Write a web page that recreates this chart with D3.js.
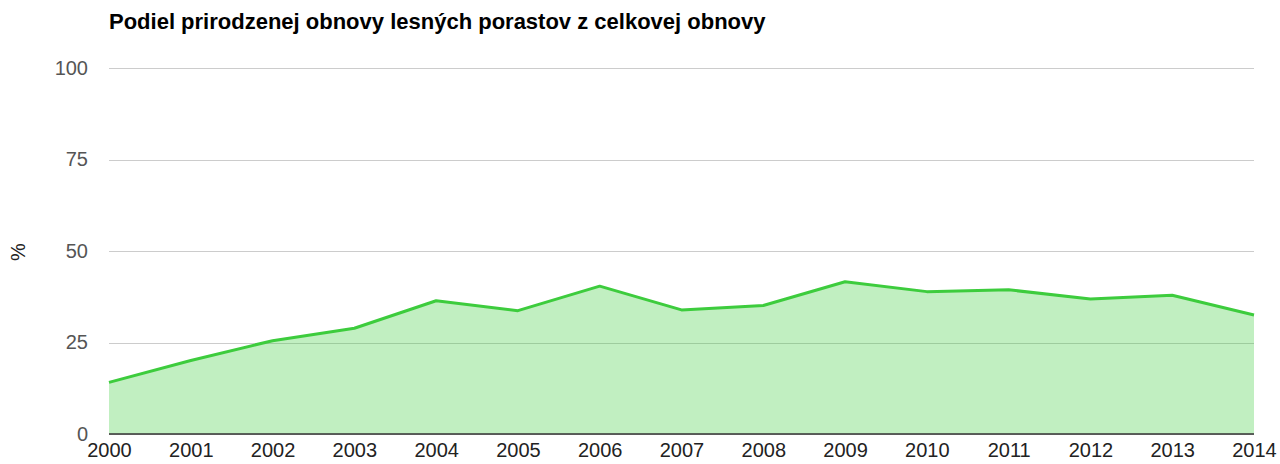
<!DOCTYPE html>
<html>
<head>
<meta charset="utf-8">
<script src="https://cdn.jsdelivr.net/npm/d3@7"></script>
<style>
  body { margin: 0; background: #fff; }
  text { font-family: "Liberation Sans", Arial, sans-serif; }
</style>
</head>
<body>
<div id="chart"></div>
<script>
// data
var years = [2000, 2001, 2002, 2003, 2004, 2005, 2006, 2007, 2008, 2009, 2010, 2011, 2012, 2013, 2014];
var shares = [14.1, 20.1, 25.5, 28.9, 36.4, 33.7, 40.4, 33.9, 35.1, 41.6, 38.9, 39.4, 36.9, 37.9, 32.5];
var yTicks = [0, 25, 50, 75, 100];
var title = "Podiel prirodzenej obnovy lesných porastov z celkovej obnovy";
var yLabel = "%";

var data = years.map(function (y, i) { return { year: y, value: shares[i] }; });

var width = 1280, height = 464;
var margin = { top: 68, right: 26, bottom: 30, left: 109 };

var svg = d3.select("#chart").append("svg")
    .attr("width", width)
    .attr("height", height);

var x = d3.scaleLinear()
    .domain([d3.min(years), d3.max(years)])
    .range([margin.left, width - margin.right]);

var y = d3.scaleLinear()
    .domain([0, 100])
    .range([height - margin.bottom, margin.top]);

// gridlines
svg.append("g")
    .selectAll("line")
    .data(yTicks)
    .enter()
    .append("line")
    .attr("x1", x.range()[0])
    .attr("x2", x.range()[1])
    .attr("y1", function (d) { return Math.round(y(d)) + 0.5; })
    .attr("y2", function (d) { return Math.round(y(d)) + 0.5; })
    .attr("stroke", "#cccccc")
    .attr("stroke-width", 1);

// area
var area = d3.area()
    .x(function (d) { return x(d.year); })
    .y0(y(0))
    .y1(function (d) { return y(d.value); });

svg.append("path")
    .datum(data)
    .attr("d", area)
    .attr("fill", "#3dcc3d")
    .attr("fill-opacity", 0.32);

var line = d3.line()
    .x(function (d) { return x(d.year); })
    .y(function (d) { return y(d.value); });

svg.append("path")
    .datum(data)
    .attr("d", line)
    .attr("fill", "none")
    .attr("stroke", "#3dcc3d")
    .attr("stroke-width", 3)
    .attr("stroke-linejoin", "round");

// baseline
svg.append("line")
    .attr("x1", x.range()[0])
    .attr("x2", x.range()[1])
    .attr("y1", y(0))
    .attr("y2", y(0))
    .attr("stroke", "#333333")
    .attr("stroke-width", 1.5);

// y axis labels
var yAxis = d3.axisLeft(y)
    .tickValues(yTicks)
    .tickSize(0)
    .tickPadding(21);

var gy = svg.append("g")
    .attr("transform", "translate(" + margin.left + ",0)")
    .call(yAxis);
gy.select(".domain").remove();
gy.selectAll("text")
    .attr("font-size", 20)
    .attr("fill", "#555555")
    .attr("font-family", "Liberation Sans, Arial, sans-serif");

// x axis labels
var xAxis = d3.axisBottom(x)
    .tickValues(years)
    .tickFormat(d3.format("d"))
    .tickSize(0)
    .tickPadding(9);

var gx = svg.append("g")
    .attr("transform", "translate(0," + y(0) + ")")
    .call(xAxis);
gx.select(".domain").remove();
gx.selectAll("text")
    .attr("font-size", 20)
    .attr("fill", "#222222")
    .attr("font-family", "Liberation Sans, Arial, sans-serif");

// y axis title
svg.append("text")
    .attr("transform", "translate(25,252) rotate(-90)")
    .attr("text-anchor", "middle")
    .attr("font-size", 20)
    .attr("fill", "#222222")
    .text(yLabel);

// chart title
svg.append("text")
    .attr("x", margin.left)
    .attr("y", 29)
    .attr("font-size", 22)
    .attr("font-weight", "bold")
    .attr("fill", "#000000")
    .text(title);
</script>
</body>
</html>
